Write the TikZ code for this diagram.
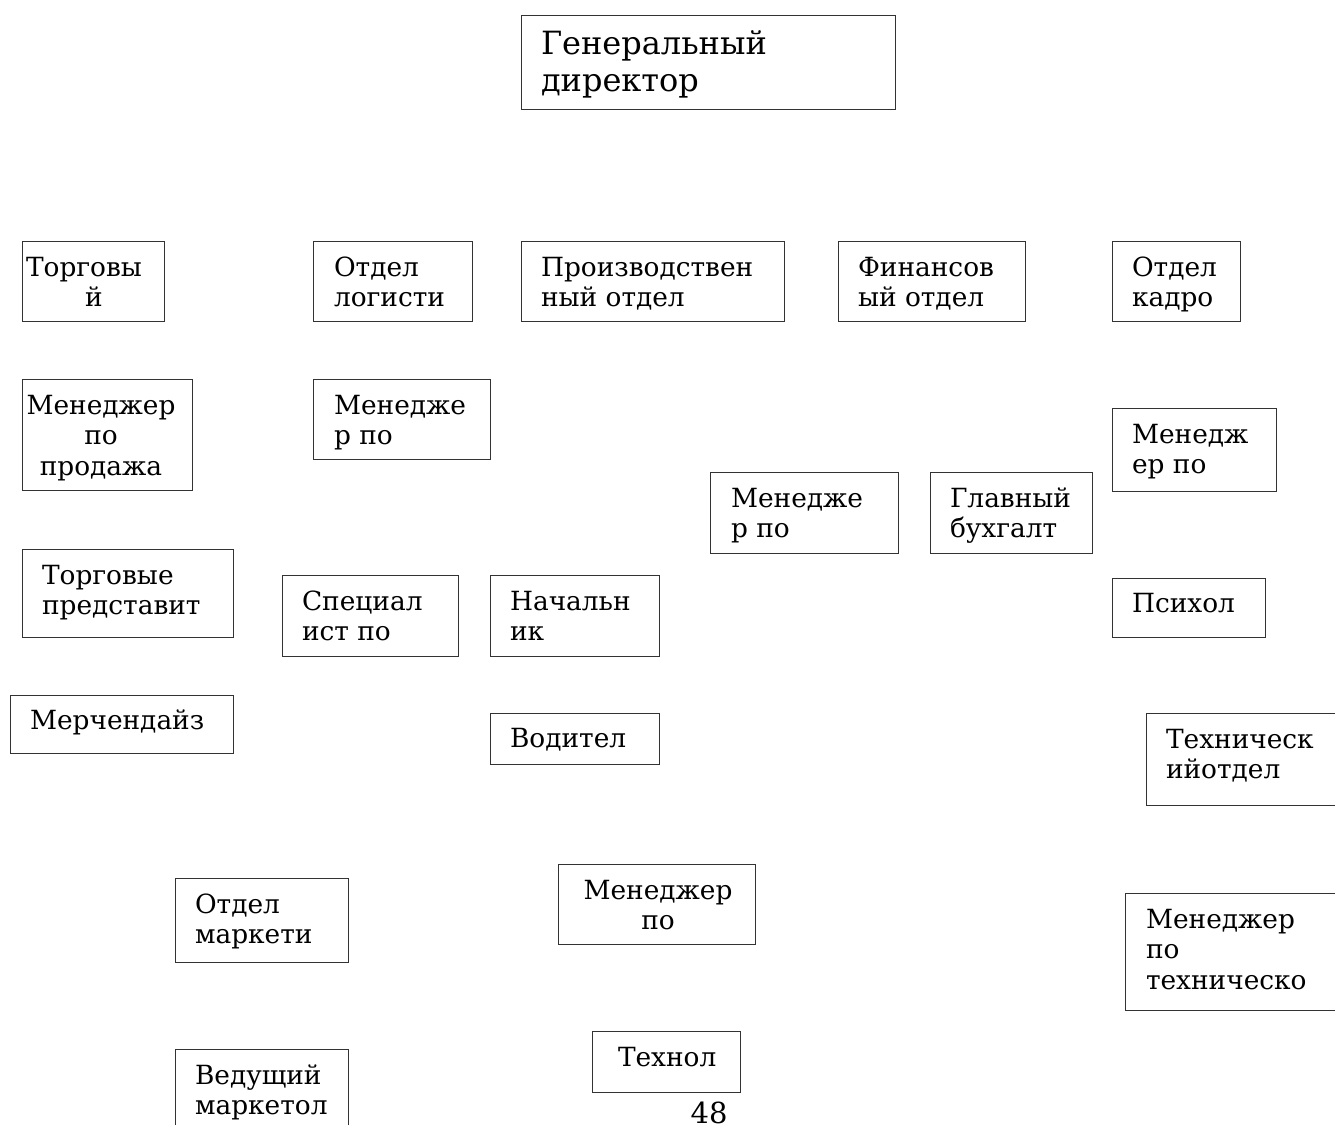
\documentclass[tikz,border=0pt]{standalone}
\usepackage{fontspec}
\setmainfont{DejaVu Serif}
\usetikzlibrary{fit}
\newcommand\boxtext[1]{\parbox[t]{400pt}{\raggedright #1}}
\newcommand\ctrtext[2]{\parbox[t]{#1}{\centering #2}}
\begin{document}
\begin{tikzpicture}[x=1pt,y=-1pt,
 box/.style={draw=black!80, line width=1pt, inner sep=0pt, outer sep=0pt, rectangle},
 txt/.style={inner sep=0pt, outer sep=0pt, anchor=base west, font=\fontsize{26.4}{30.5}\selectfont},
 big/.style={txt, font=\fontsize{32}{37}\selectfont}]
\useasboundingbox (0,0) rectangle (1335,1124);
% boxes
\node[box, fit={(521,16) (895,109)}] (gd) {};
\node[box, fit={(22,241) (164,321)}] (torg) {};
\node[box, fit={(313,241) (472,321)}] (log) {};
\node[box, fit={(521,241) (784,321)}] (prod) {};
\node[box, fit={(838,241) (1025,321)}] (fin) {};
\node[box, fit={(1112,241) (1240,321)}] (kadr) {};
\node[box, fit={(22,379) (192,490)}] (mprod) {};
\node[box, fit={(313,379) (490,459)}] (mlog) {};
\node[box, fit={(1112,408) (1276,491)}] (mkadr) {};
\node[box, fit={(710,472) (898,553)}] (mproiz) {};
\node[box, fit={(930,472) (1092,553)}] (gbuh) {};
\node[box, fit={(22,549) (233,637)}] (tpred) {};
\node[box, fit={(282,575) (458,656)}] (spec) {};
\node[box, fit={(490,575) (659,656)}] (nach) {};
\node[box, fit={(1112,578) (1265,637)}] (psih) {};
\node[box, fit={(10,695) (233,753)}] (merch) {};
\node[box, fit={(490,713) (659,764)}] (vod) {};
\node[box, fit={(1146,713) (1345,805)}] (tech) {};
\node[box, fit={(1125,893) (1345,1010)}] (mtech) {};
\node[box, fit={(558,864) (755,944)}] (mman) {};
\node[box, fit={(175,878) (348,962)}] (mark) {};
\node[box, fit={(175,1049) (348,1140)}] (vedm) {};
\node[box, fit={(592,1031) (740,1092)}] (techn) {};
% texts
\node[big] (gdt) at (541,55) {\boxtext{Генеральный\\директор}};
\node[txt] (torgt) at (26,276) {\boxtext{Торговы\\\hspace*{59pt}й}};
\node[txt] (logt) at (334,276) {\boxtext{Отдел\\логисти}};
\node[txt] (prodt) at (541,276) {\boxtext{Производствен\\ный отдел}};
\node[txt] (fint) at (858,276) {\boxtext{Финансов\\ый отдел}};
\node[txt] (kadrt) at (1132,276) {\boxtext{Отдел\\кадро}};
\node[txt] (mprodt) at (23,414) {\ctrtext{156pt}{Менеджер\\по\\продажа}};
\node[txt] (mlogt) at (334,414) {\boxtext{Менедже\\р по}};
\node[txt] (mkadrt) at (1132,443) {\boxtext{Менедж\\ер по}};
\node[txt] (mproizt) at (731,507) {\boxtext{Менедже\\р по}};
\node[txt] (gbuht) at (950,507) {\boxtext{Главный\\бухгалт}};
\node[txt] (tpredt) at (42,584) {\boxtext{Торговые\\представит}};
\node[txt] (spect) at (302,610) {\boxtext{Специал\\ист по}};
\node[txt] (nacht) at (510,610) {\boxtext{Начальн\\ик}};
\node[txt] (psiht) at (1132,612) {\boxtext{Психол}};
\node[txt] (mercht) at (30,729) {\boxtext{Мерчендайз}};
\node[txt] (vodt) at (510,747) {\boxtext{Водител}};
\node[txt] (techt) at (1166,748) {\boxtext{Техническ\\ийотдел}};
\node[txt] (mtecht) at (1146,928) {\boxtext{Менеджер\\по\\техническо}};
\node[txt] (mmant) at (558,899) {\ctrtext{200pt}{Менеджер\\по}};
\node[txt] (markt) at (195,913) {\boxtext{Отдел\\маркети}};
\node[txt] (vedmt) at (195,1084) {\boxtext{Ведущий\\маркетол}};
\node[txt] (technt) at (618,1066) {\boxtext{Технол}};
\node[inner sep=0pt, anchor=base, font=\fontsize{29}{35}\selectfont] (page) at (709,1123) {48};
\end{tikzpicture}
\end{document}
